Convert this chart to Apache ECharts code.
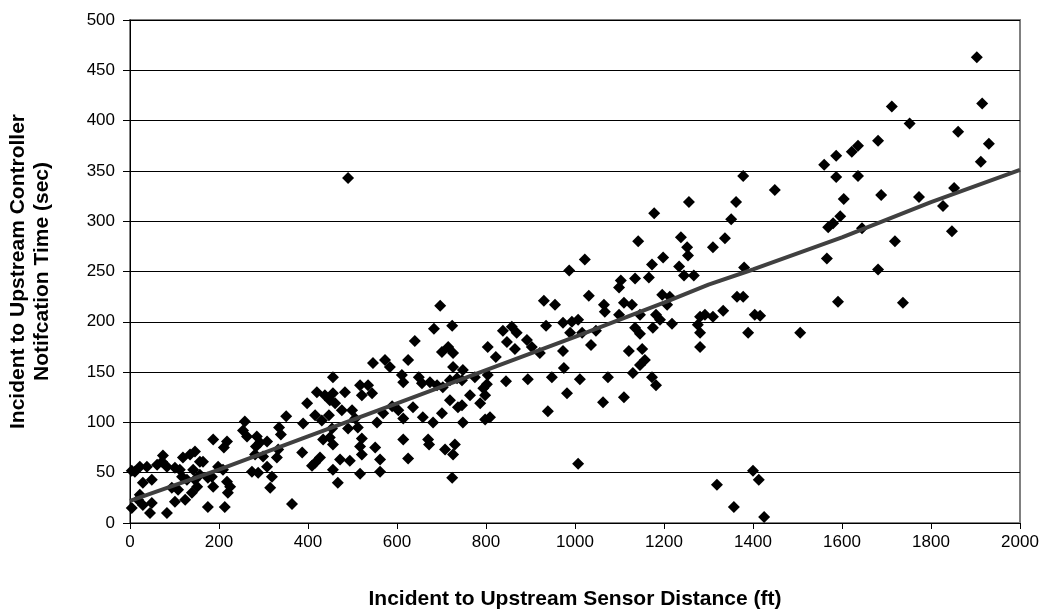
<!DOCTYPE html>
<html>
<head>
<meta charset="utf-8">
<script src="https://cdn.jsdelivr.net/npm/echarts@6/dist/echarts.min.js"></script>
<style>html,body{margin:0;padding:0;background:#fff}#c{width:1044px;height:611px}</style>
</head>
<body>
<div id="c"></div>
<script>
const xTicks = [0, 200, 400, 600, 800, 1000, 1200, 1400, 1600, 1800, 2000];
const yTicks = [0, 50, 100, 150, 200, 250, 300, 350, 400, 450, 500];

const pointsNear = [
[258,101],[254,92],[263,86],[351,106],[335,95],[339,88],[187,83],[218,81],[211,75],[285,86],[292,80],[308,81],[283,76],[281,68],[299,66],[333,73],[330,65],[308,56],[274,51],[288,50],[319,46],[315,35],[74,67],[72,61],[83,56],[61,58],[22,56],[4,52],[11,51],[38,56],[29,40],[49,43],[101,55],[119,65],[135,68],[146,71],[157,61],[164,61],[117,46],[128,43],[146,43],[151,36],[139,30],[124,23],[101,21],[94,35],[108,33],[22,28],[18,23],[4,15],[29,18],[49,20],[45,10],[83,10],[175,16],[187,36],[198,56],[184,46],[209,53],[218,41],[225,36],[220,30],[213,16],[175,45],[142,53],[157,48],[112,53]
];
const pointsMid = [
[697,216],[683,193],[724,196],[640,181],[701,170],[715,175],[726,169],[546,159],[573,162],[584,155],[625,162],[726,155],[748,152],[456,145],[611,147],[614,140],[649,145],[656,139],[674,140],[690,137],[703,135],[719,142],[735,144],[517,137],[535,137],[521,127],[544,129],[420,130],[438,127],[456,129],[449,122],[483,130],[461,119],[398,119],[416,107],[431,102],[389,99],[447,107],[476,112],[499,112],[506,104],[454,94],[490,94],[512,95],[449,85],[434,83],[456,78],[555,100],[569,109],[589,116],[603,112],[614,104],[636,115],[658,105],[681,100],[701,109],[719,122],[737,115],[748,100],[764,127],[521,84],[517,76],[521,68],[551,75],[562,63],[562,51],[517,49],[494,62],[472,63],[456,53],[467,40],[416,60],[409,57],[427,65],[387,70],[614,83],[625,64],[670,83],[672,78],[708,73],[730,78],[726,68],[724,45],[364,19],[490,343]
];
const pointsUpperMid = [
[1022,262],[987,251],[1099,234],[1031,226],[930,221],[955,217],[1065,217],[1067,210],[1099,207],[935,196],[973,199],[993,200],[1007,202],[989,189],[1016,189],[1047,191],[1036,177],[973,171],[975,154],[1074,145],[1011,143],[948,145],[894,143],[845,141],[838,191],[858,195],[869,189],[847,180],[865,173],[892,182],[903,175],[921,169],[804,175],[822,165],[775,145],[804,147],[746,142],
[1007,59],[939,111],[982,129],[1063,120],[798,103],[809,105],[787,119],[798,127],[794,134],[802,138],[746,117]
];
const pointsFar = [
[1378,345],[1256,319],[1362,319],[1178,308],[1351,302],[1142,280],[1238,284],[1252,274],[1310,274],[1337,283],[1198,264],[1173,257],[1254,266],[1234,255],[1245,246],[1267,246],[1166,244],[1135,243],[1103,241],[1380,254],[1196,227],[1213,225],[1207,217],[1110,219],[1128,217],[1146,207],[1182,207],[1191,202],[1218,198],[1175,194],[1135,194],[1146,188],[1281,205],[1292,207],[1310,205],[1333,211],[1276,197],[1281,189],[1281,175],[1364,225],[1378,225],[1404,207],[1389,189],[1121,171],[1151,173],[1157,162],[1146,157],[1130,149],[1173,145],[1182,137],[1110,125],
[1400,52],[1413,43],[1319,38],[1357,16],[1425,6],
[1449,331],[1560,356],[1587,365],[1622,369],[1636,375],[1681,380],[1587,344],[1636,345],[1604,322],[1688,326],[1773,324],[1596,305],[1580,298],[1569,294],[1645,293],[1719,280],[1566,263],[1681,252],[1591,220],[1737,219],[1506,189],[1416,206],
[1712,414],[1903,463],[1915,417],[1752,397],[1861,389],[1930,377],[1912,359],[1852,333],[1827,315],[1847,290]
];

const trendX = [0, 200, 400, 600, 800, 1000, 1200, 1300, 1400, 1600, 1800, 2000];
const trendY = [22, 53, 86, 119, 152, 185, 219, 237, 252, 284, 319, 351];

const allPoints = pointsNear.concat(pointsMid, pointsUpperMid, pointsFar);
const trend = trendX.map((x, i) => [x, trendY[i]]);

const font = '"Liberation Sans", Arial, sans-serif';
const chart = echarts.init(document.getElementById('c'), null, {renderer: 'canvas'});
chart.setOption({
  animation: false,
  backgroundColor: '#fff',
  grid: {left: 130, right: 24, top: 20, bottom: 88, containLabel: false, outerBoundsMode: 'none',
         show: true, borderColor: '#808080', borderWidth: 2, backgroundColor: 'transparent'},
  xAxis: {
    type: 'value', min: xTicks[0], max: xTicks[xTicks.length - 1], interval: 200,
    name: 'Incident to Upstream Sensor Distance (ft)', nameLocation: 'middle', nameGap: 66,
    nameTextStyle: {fontFamily: font, fontSize: 21, fontWeight: 'bold', color: '#000'},
    axisLine: {show: true, onZero: false, lineStyle: {color: '#000', width: 1}},
    axisTick: {show: true, length: 6, lineStyle: {color: '#000'}},
    axisLabel: {fontFamily: font, fontSize: 17, color: '#000', margin: 11, formatter: v => String(v)},
    splitLine: {show: false}
  },
  yAxis: {
    type: 'value', min: yTicks[0], max: yTicks[yTicks.length - 1], interval: 50,
    name: 'Incident to Upstream Controller\nNotifcation Time (sec)', nameLocation: 'middle', nameGap: 76,
    nameTextStyle: {fontFamily: font, fontSize: 21, fontWeight: 'bold', color: '#000', lineHeight: 24},
    axisLine: {show: true, onZero: false, lineStyle: {color: '#000', width: 1}},
    axisTick: {show: true, length: 7, lineStyle: {color: '#000'}},
    axisLabel: {fontFamily: font, fontSize: 17, color: '#000', margin: 15, formatter: v => String(v)},
    splitLine: {show: true, lineStyle: {color: '#000', width: 1}}
  },
  series: [
    {
      type: 'scatter', data: allPoints, symbol: 'diamond', symbolSize: 12,
      itemStyle: {color: '#000', opacity: 1}, z: 2
    },
    {
      type: 'line', data: trend, showSymbol: false, symbol: 'none', smooth: false,
      lineStyle: {color: '#404040', width: 4}, z: 3
    }
  ]
});
</script>
</body>
</html>
